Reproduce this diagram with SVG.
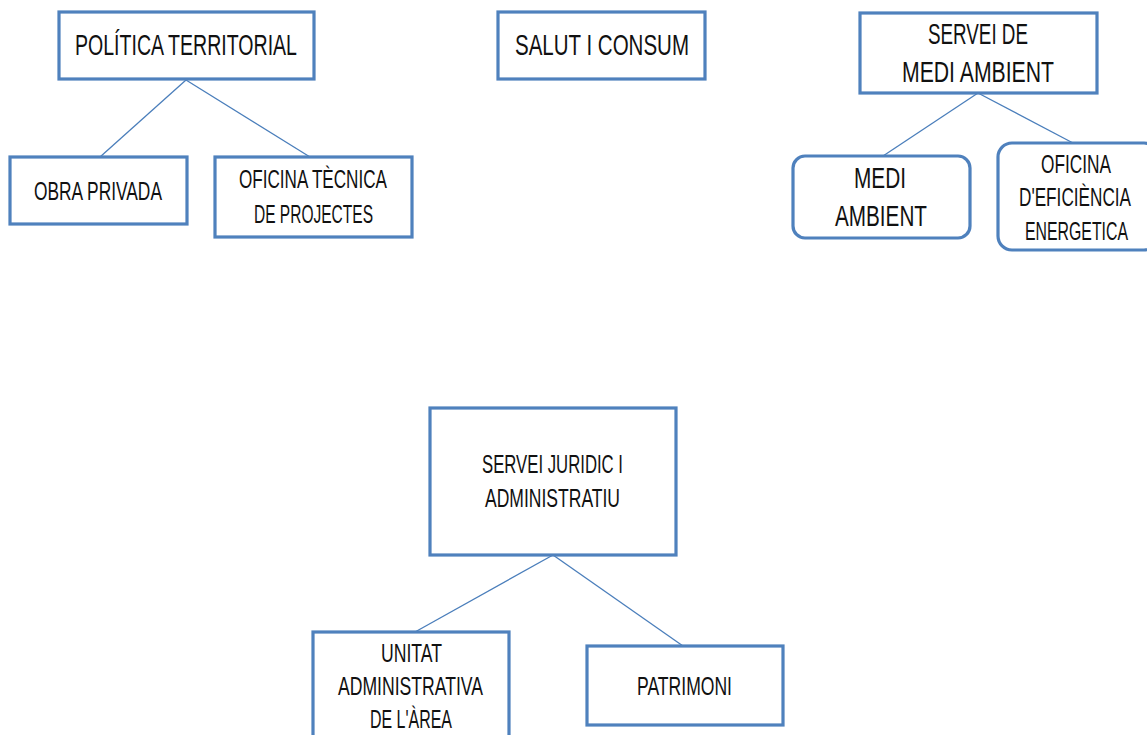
<svg xmlns="http://www.w3.org/2000/svg" width="1147" height="735" viewBox="0 0 1147 735">
<style>
.box{fill:#fff;stroke:#4F81BD;stroke-width:3.2}
.ln{stroke:#4A7EBB;stroke-width:1.3;fill:none}
text{font-family:"Liberation Sans",Arial,sans-serif;fill:#111;}
.l{font-size:30px}
.m{font-size:25px}
.s{font-size:25px}
</style>
<rect width="1147" height="735" fill="#fff"/>
<g id="connectors">
<line class="ln" x1="186" y1="80" x2="100" y2="157"/>
<line class="ln" x1="186" y1="80" x2="310" y2="157"/>
<line class="ln" x1="978" y1="93" x2="883" y2="156"/>
<line class="ln" x1="978" y1="93" x2="1073" y2="143"/>
<line class="ln" x1="553" y1="555" x2="415" y2="632"/>
<line class="ln" x1="553" y1="555" x2="683" y2="646"/>
</g>
<g id="politica">
<rect class="box" x="59" y="12" width="255" height="67"/>
<text class="l" x="75" y="55" textLength="222" lengthAdjust="spacingAndGlyphs">POLÍTICA TERRITORIAL</text>
</g>
<g id="obra">
<rect class="box" x="10" y="157" width="177" height="67"/>
<text class="s" x="34" y="200" textLength="128" lengthAdjust="spacingAndGlyphs">OBRA PRIVADA</text>
</g>
<g id="oficina-tecnica">
<rect class="box" x="215" y="157" width="197" height="80"/>
<text class="s" x="239" y="188" textLength="148" lengthAdjust="spacingAndGlyphs">OFICINA TÈCNICA</text>
<text class="s" x="254" y="223" textLength="119" lengthAdjust="spacingAndGlyphs">DE PROJECTES</text>
</g>
<g id="salut">
<rect class="box" x="498" y="12" width="207" height="67"/>
<text class="l" x="515" y="55" textLength="174" lengthAdjust="spacingAndGlyphs">SALUT I  CONSUM</text>
</g>
<g id="servei-medi">
<rect class="box" x="860" y="13" width="237" height="80"/>
<text class="l" x="928" y="44" textLength="100" lengthAdjust="spacingAndGlyphs">SERVEI DE</text>
<text class="l" x="902" y="82" textLength="152" lengthAdjust="spacingAndGlyphs">MEDI AMBIENT</text>
</g>
<g id="medi">
<rect class="box" x="793" y="156" width="177" height="82" rx="12"/>
<text class="l" x="854" y="188" textLength="52" lengthAdjust="spacingAndGlyphs">MEDI</text>
<text class="l" x="835" y="226" textLength="92" lengthAdjust="spacingAndGlyphs">AMBIENT</text>
</g>
<g id="eficiencia">
<rect class="box" x="998" y="143" width="160" height="107" rx="14"/>
<text class="m" x="1041" y="173" textLength="70" lengthAdjust="spacingAndGlyphs">OFICINA</text>
<text class="m" x="1019" y="206" textLength="112" lengthAdjust="spacingAndGlyphs">D'EFICIÈNCIA</text>
<text class="m" x="1025" y="240" textLength="103" lengthAdjust="spacingAndGlyphs">ENERGETICA</text>
</g>
<g id="juridic">
<rect class="box" x="430" y="408" width="246" height="147"/>
<text class="s" x="482" y="473" textLength="141" lengthAdjust="spacingAndGlyphs">SERVEI JURIDIC  I</text>
<text class="s" x="485" y="507" textLength="135" lengthAdjust="spacingAndGlyphs">ADMINISTRATIU</text>
</g>
<g id="unitat">
<rect class="box" x="313" y="632" width="196" height="120"/>
<text class="s" x="381" y="662" textLength="61" lengthAdjust="spacingAndGlyphs">UNITAT</text>
<text class="s" x="338" y="695" textLength="145" lengthAdjust="spacingAndGlyphs">ADMINISTRATIVA</text>
<text class="s" x="370" y="728" textLength="82" lengthAdjust="spacingAndGlyphs">DE L'ÀREA</text>
</g>
<g id="patrimoni">
<rect class="box" x="587" y="646" width="196" height="79"/>
<text class="s" x="637" y="695" textLength="95" lengthAdjust="spacingAndGlyphs">PATRIMONI</text>
</g>
</svg>
